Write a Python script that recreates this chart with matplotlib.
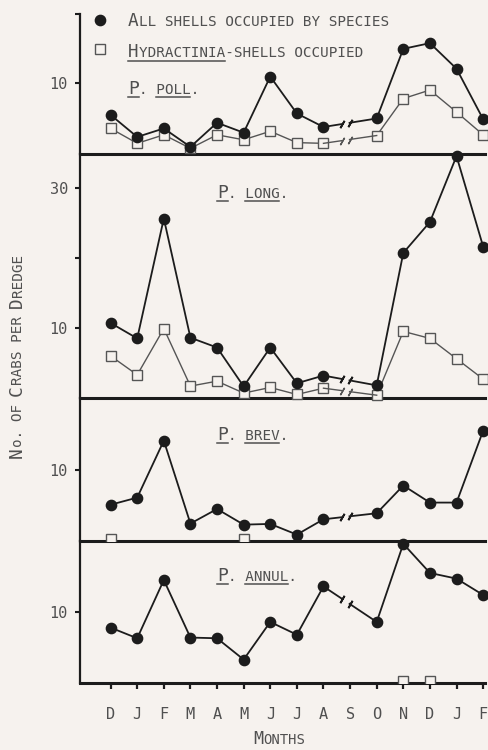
import numpy as np
import matplotlib.pyplot as plt
from matplotlib.lines import Line2D

plt.rcParams['font.family'] = 'DejaVu Sans Mono'

W, H = 488, 750
BG = '#f6f2ee'
INK = '#1c1c1c'
TXT = '#505050'
nan = np.nan

# months Dec .. Feb (S = no sample)
months = ['D', 'J', 'F', 'M', 'A', 'M', 'J', 'J', 'A', 'S', 'O', 'N', 'D', 'J', 'F']

poll_all = [5.5, 2.4, 3.6, 1.0, 4.4, 3.0, 10.9, 5.7, 3.8, nan, 5.0, 14.8, 15.6, 12.0, 4.9]
poll_hyd = [3.6, 1.5, 2.7, 0.8, 2.7, 2.0, 3.2, 1.6, 1.5, nan, 2.6, 7.8, 9.0, 5.9, 2.7]
long_all = [10.7, 8.5, 25.6, 8.6, 7.2, 1.65, 7.2, 2.1, 3.2, nan, 1.8, 20.7, 25.1, 34.5, 21.6]
long_hyd = [6.0, 3.3, 9.9, 1.7, 2.4, 0.7, 1.5, 0.5, 1.4, nan, 0.4, 9.5, 8.5, 5.6, 2.7]
brev_all = [5.1, 6.1, 14.1, 2.45, 4.5, 2.3, 2.4, 0.9, 3.05, nan, 3.9, 7.8, 5.4, 5.4, 15.5]
brev_hyd = [0.3, nan, nan, nan, nan, 0.3, nan, nan, nan, nan, nan, nan, nan, nan, nan]
annul_all = [7.8, 6.3, 14.5, 6.4, 6.3, 3.3, 8.6, 6.8, 13.6, nan, 8.6, 19.6, 15.5, 14.7, 12.4]
annul_hyd = [nan, nan, nan, nan, nan, nan, nan, nan, nan, nan, nan, 0.3, 0.3, nan, nan]

species = ['POLL.', 'LONG.', 'BREV.', 'ANNUL.']


def fx(x):
    return x / W


def fy(y):
    return 1 - y / H


def cw(size):
    # advance width of one mono character in pixels
    return 0.602 * size * 100 / 72


def caps(fig, x, y, pieces, rot=0, center=False):
    total = sum(len(t) * cw(s) for t, s in pieces)
    if center:
        if rot:
            y += total / 2
        else:
            x -= total / 2
    spans = []
    pos = 0
    for t, s in pieces:
        w = len(t) * cw(s)
        if rot:
            fig.text(fx(x), fy(y - pos), t, size=s, rotation=90, rotation_mode='anchor',
                     ha='left', va='baseline', color=TXT)
        else:
            fig.text(fx(x + pos), fy(y), t, size=s, ha='left', va='baseline', color=TXT)
        spans.append((pos, pos + w))
        pos += w
    return x, spans


def underline(fig, x0, x1, y):
    fig.add_artist(Line2D([fx(x0), fx(x1)], [fy(y), fy(y)], color=TXT, lw=1.1))


def draw_break(ax, vals, **kw):
    # broken connection between A and O (no September sample)
    xa, xo = 8, 10
    ya, yo = vals[xa], vals[xo]
    if np.isnan(ya) or np.isnan(yo):
        return
    g1, g2 = 8.68, 8.98
    y1 = ya + (yo - ya) * (g1 - xa) / (xo - xa)
    y2 = ya + (yo - ya) * (g2 - xa) / (xo - xa)
    ax.plot([xa, g1], [ya, y1], clip_on=False, **kw)
    ax.plot([g2, xo], [y2, yo], clip_on=False, **kw)
    ax.plot([g1, g2], [y1, y2], linestyle='none', marker=(2, 2, -30), ms=6,
            mew=kw.get('lw', 1.2), mec=kw.get('color', INK), clip_on=False)


BIG, SMALL = 12.8, 10.3

fig = plt.figure(figsize=(W / 100, H / 100), dpi=100)
fig.patch.set_facecolor(BG)

layout = [
    (poll_all, poll_hyd, (14, 154), (0, 19.7), [10, 19.7], ['10', ''], True, (128, 94)),
    (long_all, long_hyd, (154, 398), (0, 34.8), [10, 20, 30], ['10', '', '30'], True, (217, 198)),
    (brev_all, brev_hyd, (398, 541), (0, 20.1), [10], ['10'], False, (217, 440)),
    (annul_all, annul_hyd, (541, 683), (0, 20), [10], ['10'], False, (217, 581)),
]

x = np.arange(len(months))
left, right = 80, 485
axes = []
for i, (va, vh, (top, bot), ylim, yt, ytl, hyd_line, lab) in enumerate(layout):
    ax = fig.add_axes([fx(left), fy(bot), (right - left) / W, (bot - top) / H])
    ax.set_facecolor('none')
    ax.set_xlim(-1.15, 14.07)
    ax.set_ylim(*ylim)

    va = np.array(va, dtype=float)
    vh = np.array(vh, dtype=float)

    if hyd_line:
        ax.plot(x, vh, '-', color='#555555', lw=1.0, marker='s', ms=7, mfc=BG,
                mec='#555555', mew=1.0, clip_on=False, zorder=3)
        draw_break(ax, vh, color='#555555', lw=1.0, zorder=3)
    else:
        ax.plot(x, vh, linestyle='none', marker='s', ms=7, mfc=BG,
                mec='#555555', mew=1.0, clip_on=True, zorder=3)
    ax.plot(x, va, '-', color=INK, lw=1.3, marker='o', ms=7.4, mfc=INK, mec=INK,
            clip_on=False, zorder=4)
    draw_break(ax, va, color=INK, lw=1.3, zorder=4)

    for s in ['top', 'right']:
        ax.spines[s].set_visible(False)
    ax.spines['left'].set_linewidth(1.6)
    ax.spines['left'].set_color(INK)
    ax.spines['bottom'].set_linewidth(2.2)
    ax.spines['bottom'].set_color(INK)

    ax.set_yticks(yt)
    ax.set_yticklabels(ytl)
    ax.tick_params(axis='y', direction='out', length=3.8, width=1.5, color=INK,
                   labelsize=11, labelcolor=TXT, pad=5)
    if i < 3:
        ax.set_xticks([])
    else:
        ax.set_xticks(x)
        ax.set_xticklabels(months)
        ax.tick_params(axis='x', direction='out', length=4.5, width=1.6, color=INK,
                       labelsize=11, labelcolor=TXT, pad=13)

    # species label, e.g. "P. POLL." with underlines
    lx, ly = lab
    x0, sp = caps(fig, lx, ly, [('P', BIG), ('. ' + species[i], SMALL)])
    underline(fig, x0, x0 + sp[0][1], ly + 3)
    start = x0 + sp[1][0] + 2 * cw(SMALL)
    underline(fig, start, start + (len(species[i]) - 1) * cw(SMALL), ly + 3)
    axes.append(ax)

# legend
fig.add_artist(Line2D([fx(100)], [fy(20)], marker='o', ms=7.4, color=INK, linestyle='none'))
fig.add_artist(Line2D([fx(100)], [fy(49)], marker='s', ms=7, mfc=BG, mec='#555555',
                      mew=1.0, linestyle='none'))
caps(fig, 128, 26, [('A', BIG), ('LL SHELLS OCCUPIED BY SPECIES', SMALL)])
x0, sp = caps(fig, 128, 57, [('H', BIG), ('YDRACTINIA-SHELLS OCCUPIED', SMALL)])
underline(fig, x0, x0 + cw(BIG) + 10 * cw(SMALL), 61)

# axis titles
caps(fig, 22, 356, [('N', BIG), ('o. OF ', SMALL), ('C', BIG), ('RABS PER ', SMALL),
                     ('D', BIG), ('REDGE', SMALL)], rot=90, center=True)
caps(fig, 279, 744, [('M', 12), ('ONTHS', 10)], center=True)

fig.savefig('out.png', dpi=100, facecolor=BG)
